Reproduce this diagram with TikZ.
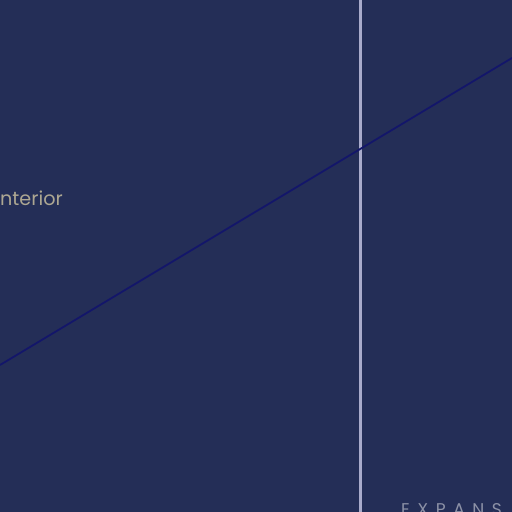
\documentclass[tikz,border=0pt]{standalone}
\usepackage{fontspec}
\setmainfont{Poppins}
\definecolor{bg}{HTML}{242E57}
\definecolor{vline}{HTML}{A9ABCB}
\definecolor{dline}{HTML}{13166A}
\definecolor{lbl}{HTML}{ADA792}
\definecolor{cap}{HTML}{8C91A6}
\tikzset{
  lbltext/.style={text=lbl, font=\fontsize{19.2}{21}\selectfont, inner sep=0pt, anchor=base west},
  captext/.style={text=cap, font=\fontsize{17}{19}\selectfont\addfontfeatures{LetterSpace=45}, inner sep=0pt, anchor=base west},
}
\begin{document}
\begin{tikzpicture}[x=1pt,y=1pt]
\useasboundingbox (0,0) rectangle (512,512);
\clip (0,0) rectangle (512,512);
\fill[bg] (0,0) rectangle (512,512);
\coordinate (vt) at (360,512);
\coordinate (vb) at (360,0);
\coordinate (dl) at (0,147);
\coordinate (dr) at (512,454);
\draw[vline, line width=3pt] (vt) -- (vb);
\draw[dline, line width=1.8pt] (dl) -- (dr);
\node[lbltext] (interior) at (0,306) {nterior};
\node[captext] (exp) at (401,-3) {EXPANS};
\end{tikzpicture}
\end{document}
